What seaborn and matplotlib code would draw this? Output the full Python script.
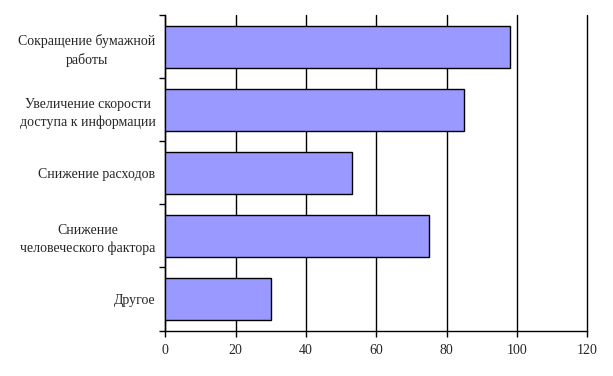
import matplotlib
matplotlib.use("Agg")
import matplotlib.pyplot as plt
import seaborn as sns
import pandas as pd
import numpy as np

categories = [
    "Сокращение бумажной\nработы",
    "Увеличение скорости\nдоступа к информации",
    "Снижение расходов",
    "Снижение\nчеловеческого фактора",
    "Другое",
]
values = [98, 85, 53, 75, 30]
x_ticks = [0, 20, 40, 60, 80, 100, 120]


def main():
    df = pd.DataFrame({"category": categories, "value": values})

    sns.set_style("white")
    plt.rcParams["font.family"] = ["Liberation Serif", "DejaVu Serif"]

    fig = plt.figure(figsize=(6.13, 3.76), dpi=100)
    ax = fig.add_axes([0.2695, 0.121, 0.6885, 0.839])

    sns.barplot(data=df, x="value", y="category", orient="h", color="#9999FF",
                saturation=1, edgecolor="black", linewidth=1, width=0.667, ax=ax,
                zorder=3)

    ax.set_xlim(0, 120)
    ax.set_ylim(len(categories) - 0.5, -0.5)
    ax.set_xticks(x_ticks)
    ax.set_xticklabels([str(t) for t in x_ticks], fontsize=10)
    ax.xaxis.grid(True, color="black", linewidth=1, zorder=0)
    ax.yaxis.grid(False)
    for gl in ax.get_xgridlines():
        gl.set_clip_on(False)

    # category labels without marks, boundary marks like a spreadsheet chart
    ax.tick_params(axis="y", which="major", length=0, labelsize=10, pad=7)
    ax.set_yticks(np.arange(-0.5, len(categories), 1.0), minor=True)
    ax.tick_params(axis="y", which="minor", length=4, width=1, color="black",
                   direction="out", left=True)
    ax.tick_params(axis="x", length=4, width=1, color="black", direction="out",
                   bottom=True, pad=6)
    for lab in ax.get_yticklabels():
        lab.set_horizontalalignment("right")
        lab.set_multialignment("center")
        lab.set_linespacing(1.45)

    for side in ["top", "right"]:
        ax.spines[side].set_visible(False)
    for side in ["left", "bottom"]:
        ax.spines[side].set_color("black")
        ax.spines[side].set_linewidth(1)

    ax.set_xlabel("")
    ax.set_ylabel("")
    fig.savefig("out.png", dpi=100)


if __name__ == "__main__":
    main()
